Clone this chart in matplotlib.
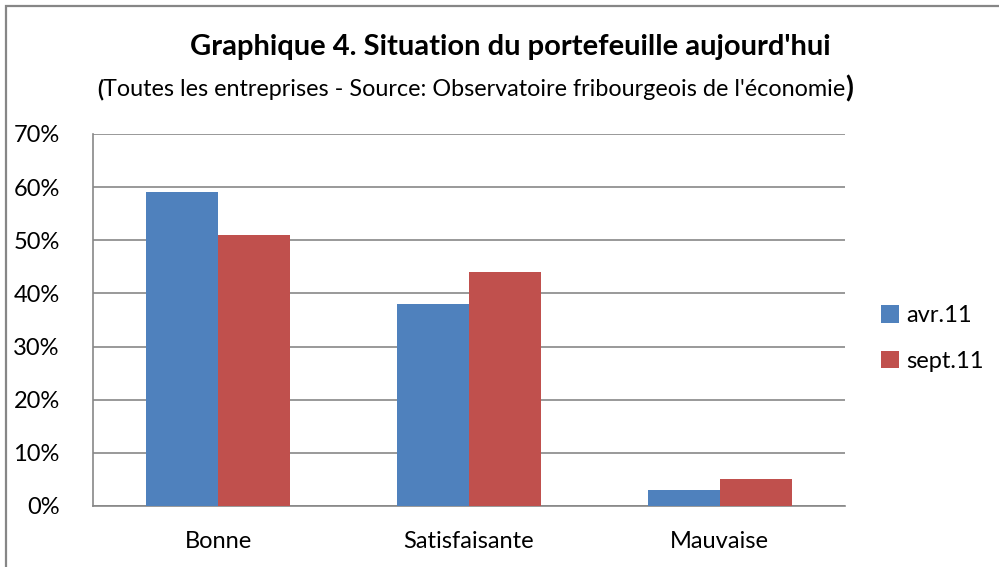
import matplotlib.pyplot as plt
import numpy as np
from matplotlib.patches import Rectangle

categories = ['Bonne', 'Satisfaisante', 'Mauvaise']
series_names = ['avr.11', 'sept.11']
avr11 = [0.59, 0.38, 0.03]
sept11 = [0.51, 0.44, 0.05]
yticks = [0, 0.1, 0.2, 0.3, 0.4, 0.5, 0.6, 0.7]

blue = '#4F81BD'
red = '#C0504D'

plt.rcParams['font.family'] = ['Lato', 'DejaVu Sans']

fig = plt.figure(figsize=(9.99, 5.67), dpi=100)
ax = fig.add_axes([0.0931, 0.1076, 0.7527, 0.6561])

x = np.arange(len(categories))
w = 0.2875
ax.bar(x - w / 2, avr11, w, color=blue, label=series_names[0], zorder=3)
ax.bar(x + w / 2, sept11, w, color=red, label=series_names[1], zorder=3)

ax.set_xlim(-0.5, 2.5)
ax.set_ylim(0, 0.7)
ax.set_yticks(yticks)
ax.set_yticklabels(['%d%%' % round(v * 100) for v in yticks], fontsize=17)
ax.set_xticks(x)
ax.set_xticklabels(categories, fontsize=17)
ax.yaxis.grid(True, color='#878787', linewidth=1.2, zorder=0)
ax.tick_params(axis='y', length=0, pad=24)
ax.tick_params(axis='x', length=0, pad=18)
for s in ['top', 'right']:
    ax.spines[s].set_visible(False)
for s in ['left', 'bottom']:
    ax.spines[s].set_color('#878787')
    ax.spines[s].set_linewidth(1.2)

ax.legend(loc='center left', bbox_to_anchor=(1.02, 0.45), frameon=False,
          fontsize=17, handlelength=0.75, handleheight=0.75,
          handletextpad=0.3, labelspacing=1.05)

fig.text(0.511, 0.917, "Graphique 4. Situation du portefeuille aujourd'hui",
         ha='center', va='center', fontsize=21, fontweight='bold')
sub = fig.text(0.4745, 0.843,
               "Toutes les entreprises - Source: Observatoire fribourgeois de l'économie",
               ha='center', va='center', fontsize=16.8)
ax.annotate('(', xy=(0, 0.5), xycoords=sub, ha='right', va='center',
            fontsize=16, fontweight='bold', annotation_clip=False)
ax.annotate(')', xy=(1, 0.5), xycoords=sub, ha='left', va='center',
            fontsize=21, fontweight='bold', annotation_clip=False)

# chart border
fig.add_artist(Rectangle((0.0065, -0.01), 1.1, 0.9994, transform=fig.transFigure,
                         fill=False, edgecolor='#868686', linewidth=1.6))

plt.savefig('out.png', dpi=100)
